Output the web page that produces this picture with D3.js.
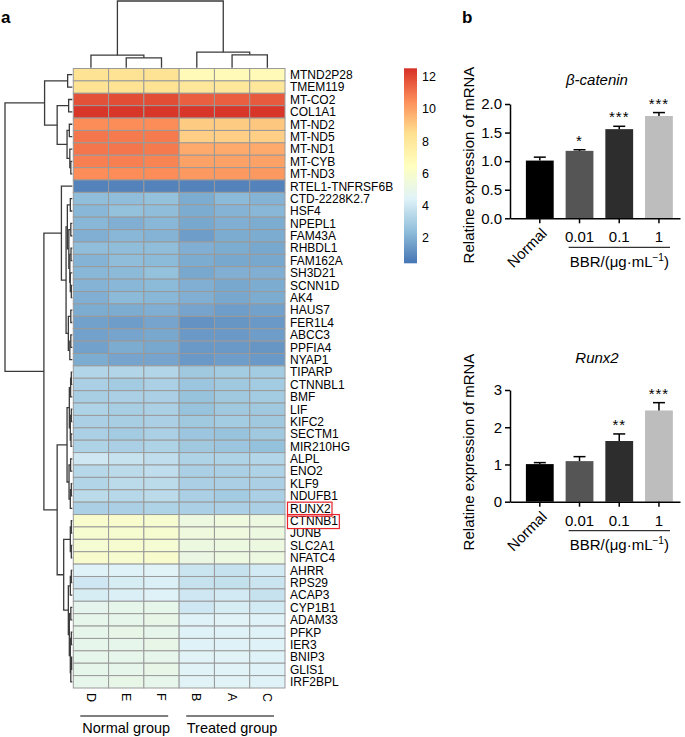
<!DOCTYPE html>
<html><head><meta charset="utf-8">
<script src="https://cdn.jsdelivr.net/npm/d3@7/dist/d3.min.js"></script>
<style>
body{margin:0;background:#fff}
svg{display:block}
text{font-family:"Liberation Sans",Arial,Helvetica,sans-serif;fill:#000}
</style>
</head><body>
<svg id="c" width="685" height="737"></svg>
<script>
// ---------------- DATA ----------------
const genes = ["MTND2P28","TMEM119","MT-CO2","COL1A1","MT-ND2","MT-ND5","MT-ND1","MT-CYB","MT-ND3",
  "RTEL1-TNFRSF6B","CTD-2228K2.7","HSF4","NPEPL1","FAM43A","RHBDL1","FAM162A","SH3D21","SCNN1D","AK4",
  "HAUS7","FER1L4","ABCC3","PPFIA4","NYAP1","TIPARP","CTNNBL1","BMF","LIF","KIFC2","SECTM1","MIR210HG",
  "ALPL","ENO2","KLF9","NDUFB1","RUNX2","CTNNB1","JUNB","SLC2A1","NFATC4","AHRR","RPS29","ACAP3",
  "CYP1B1","ADAM33","PFKP","IER3","BNIP3","GLIS1","IRF2BPL"];
const samples = ["D","E","F","B","A","C"];
const groupNames = ["Normal group","Treated group"];
const groupMembers = [["D","E","F"],["B","A","C"]];
const highlighted = ["RUNX2","CTNNB1"];
// expression per gene, columns D,E,F,B,A,C
const expr = [
  [8.3,8.3,8.3,6.8,6.8,6.8],
  [8.3,8.3,8.3,8.0,8.0,8.0],
  [11.8,11.9,11.9,11.5,11.5,11.6],
  [12.4,12.4,12.4,12.4,12.4,12.4],
  [10.5,10.5,10.5,9.0,9.0,9.1],
  [11.0,10.9,10.9,8.9,8.9,8.9],
  [11.0,11.0,10.9,9.8,9.8,9.8],
  [10.8,10.8,10.7,10.0,10.0,10.0],
  [10.5,10.5,10.5,10.2,10.2,10.2],
  [0.8,0.8,0.8,0.8,0.8,0.8],
  [2.4,2.4,2.5,1.9,2.3,2.1],
  [2.2,2.5,2.4,1.9,2.1,2.2],
  [2.2,2.0,2.2,1.8,2.0,1.9],
  [2.0,2.2,2.1,1.5,1.9,1.9],
  [2.4,2.4,2.4,2.0,1.9,1.8],
  [2.1,2.4,2.3,1.9,1.8,1.8],
  [2.2,2.3,2.5,1.8,2.0,2.0],
  [2.1,2.2,2.3,2.0,1.8,1.9],
  [2.0,2.3,2.2,2.0,1.8,1.9],
  [1.9,1.9,2.0,1.7,1.5,1.6],
  [1.6,1.5,1.7,1.2,1.3,1.4],
  [1.6,1.7,1.8,1.4,1.4,1.5],
  [1.6,1.9,1.8,1.4,1.4,1.3],
  [1.9,1.7,1.7,1.4,1.5,1.4],
  [3.3,3.3,3.3,2.8,2.9,2.9],
  [3.1,2.9,3.1,2.7,2.8,2.9],
  [3.0,3.1,3.1,2.6,2.8,2.9],
  [3.2,3.0,3.1,2.6,2.8,2.8],
  [3.1,3.0,3.1,2.8,2.9,2.8],
  [3.1,2.9,3.1,2.7,2.6,2.8],
  [3.2,3.1,3.2,2.8,2.7,2.5],
  [4.0,3.8,3.6,3.2,3.2,3.3],
  [3.4,3.5,3.6,3.1,3.1,3.2],
  [3.3,3.5,3.5,3.1,3.1,3.1],
  [3.5,3.4,3.5,3.1,2.9,3.1],
  [3.1,3.1,3.2,3.1,3.1,3.1],
  [6.0,6.0,5.9,5.3,5.4,5.3],
  [5.9,5.9,5.9,5.4,5.4,5.3],
  [5.8,5.9,5.8,5.3,5.3,5.3],
  [6.0,5.9,6.0,5.2,5.3,5.3],
  [4.4,4.4,4.5,3.9,3.8,4.1],
  [4.0,4.2,4.3,3.8,3.7,3.9],
  [4.2,4.3,4.4,4.0,4.1,3.8],
  [4.8,4.9,4.9,4.0,4.2,4.1],
  [4.9,4.9,5.0,4.4,4.5,4.4],
  [4.9,5.0,4.9,4.4,4.4,4.4],
  [4.9,4.9,5.0,4.4,4.4,4.4],
  [4.9,4.9,4.9,4.5,4.5,4.4],
  [4.9,4.9,5.0,4.5,4.5,4.4],
  [4.9,5.0,4.9,4.5,4.5,4.4]
];
const colorStops = ["#4575B4","#91BFDB","#E0F3F8","#FFFFBF","#FEE090","#FC8D59","#D73027"];
const legendRange = [0.41, 12.52];
const legendTicks = [2,4,6,8,10,12];
// dendrograms: [mergeHeight, left, right]
const colTree = [67, [12.7,"D",[10,"E","F"]], [15.7,"B",[13,"A","C"]]];
const rowTree = [68,
  [28, [4.7,"MTND2P28","TMEM119"],
       [15.3, [3.7,"MT-CO2","COL1A1"],
              [5.3, [3,"MT-ND2","MT-ND5"], [2.5,"MT-ND1",[1.5,"MT-CYB","MT-ND3"]]]]],
  [28.7,
    [11, "RTEL1-TNFRSF6B",
       [6.3,
         [5, [2,"CTD-2228K2.7","HSF4"],
             [3.5, [1.5,"NPEPL1","FAM43A"],
                   [2.5, [1.3,"RHBDL1","FAM162A"], [2,"SH3D21",[1,"SCNN1D","AK4"]]]]],
         [4, [1.5,"HAUS7","FER1L4"], [2.5,[1.5,"ABCC3","PPFIA4"],"NYAP1"]]]],
    [15.3,
      [5.3,
        [3, [1.7,[1,"TIPARP","CTNNBL1"],"BMF"], [2,[1,"LIF","KIFC2"],[1.3,"SECTM1","MIR210HG"]]],
        [3.3, [1.7,"ALPL","ENO2"], [2,[1,"KLF9","NDUFB1"],"RUNX2"]]],
      [8.7,
        [2, [1,"CTNNB1","JUNB"], [1,"SLC2A1","NFATC4"]],
        [4, [2,[1,"AHRR","RPS29"],"ACAP3"],
            [3, [1.5,"CYP1B1","ADAM33"], [2,[1,"PFKP","IER3"],[1.5,[0.7,"BNIP3","GLIS1"],"IRF2BPL"]]]]]]]];

// bar charts
const barCategories = ["Normal","0.01","0.1","1"];
const barFills = ["#000000","#555555","#2d2d2d","#bdbdbd"];
const cateninMean = [1.01,1.18,1.56,1.79];
const cateninErr  = [0.06,0.02,0.05,0.06];
const cateninSig  = ["","*","***","***"];
const cateninTicks = [0,0.5,1.0,1.5,2.0];
const runxMean = [1.01,1.09,1.63,2.45];
const runxErr  = [0.04,0.12,0.19,0.21];
const runxSig  = ["","","**","***"];
const runxTicks = [0,1,2,3];

// ---------------- DRAW ----------------
const svg = d3.select("#c");
const hmX = d3.scaleBand().domain(samples).range([73.3, 285]);
const hmY = d3.scaleBand().domain(genes).range([68.5, 688]);
const cDom = colorStops.map((c,i)=>legendRange[0]+i*(legendRange[1]-legendRange[0])/(colorStops.length-1));
const color = d3.scaleLinear().domain(cDom).range(colorStops).clamp(true);

// panel labels
svg.append("text").attr("x",1).attr("y",23).attr("font-size",17).attr("font-weight","bold").text("a");
svg.append("text").attr("x",462).attr("y",23).attr("font-size",17).attr("font-weight","bold").text("b");

// cells
const cells = [];
genes.forEach((g,i)=>samples.forEach((s,j)=>cells.push({g,s,v:expr[i][j]})));
svg.append("g").selectAll("rect").data(cells).join("rect")
  .attr("x",d=>hmX(d.s)).attr("y",d=>hmY(d.g))
  .attr("width",hmX.bandwidth()).attr("height",hmY.bandwidth())
  .attr("fill",d=>color(d.v)).attr("stroke","#9a9a9a").attr("stroke-width",1);

// dendrograms
function dendro(tree, leafPos, hPos, horizontal){
  const paths=[];
  function rec(n){
    if(typeof n==="string") return {p:leafPos(n),h:0};
    const a=rec(n[1]), b=rec(n[2]), h=n[0];
    const pt=(pp,hh)=>horizontal?[hPos(hh),pp]:[pp,hPos(hh)];
    const P=[pt(a.p,a.h),pt(a.p,h),pt(b.p,h),pt(b.p,b.h)];
    paths.push("M"+P.map(q=>q.join(",")).join("L"));
    return {p:(a.p+b.p)/2,h};
  }
  rec(tree);
  return paths;
}
const rowH = d3.scaleLinear().domain([0,68]).range([72.3,5]);
const colH = d3.scaleLinear().domain([0,67]).range([67.8,1]);
const rowPaths = dendro(rowTree, g=>hmY(g)+hmY.bandwidth()/2, rowH, true);
const colPaths = dendro(colTree, s=>hmX(s)+hmX.bandwidth()/2, colH, false);
svg.append("g").selectAll("path").data(rowPaths.concat(colPaths)).join("path")
  .attr("d",d=>d).attr("fill","none").attr("stroke","#3a3a3a").attr("stroke-width",1.3);

// row labels
const rl = svg.append("g").selectAll("text").data(genes).join("text")
  .attr("x",290).attr("y",g=>hmY(g)+hmY.bandwidth()/2).attr("dy","0.36em")
  .attr("font-size",12).text(g=>g);
rl.filter(g=>highlighted.includes(g)).each(function(){
  const b=this.getBBox();
  svg.append("rect").attr("x",b.x-2.5).attr("y",b.y+0.5).attr("width",b.width+3.5).attr("height",b.height)
    .attr("fill","none").attr("stroke","#e8232a").attr("stroke-width",1.2);
});

// column labels
svg.append("g").selectAll("text").data(samples).join("text")
  .attr("transform",s=>`translate(${hmX(s)+hmX.bandwidth()/2},693) rotate(90)`)
  .attr("dy","0.35em").attr("font-size",12.5).text(s=>s);

// group lines
groupNames.forEach((name,i)=>{
  const m=groupMembers[i];
  const x0=hmX(m[0])+7, x1=hmX(m[m.length-1])+hmX.bandwidth()-11;
  svg.append("line").attr("x1",x0).attr("x2",x1).attr("y1",716).attr("y2",716).attr("stroke","#000").attr("stroke-width",1.2);
  svg.append("text").attr("x",(x0+x1)/2+2).attr("y",733).attr("text-anchor","middle").attr("font-size",14.5).text(name);
});

// legend
const lg = svg.append("defs").append("linearGradient").attr("id","lg").attr("x1",0).attr("x2",0).attr("y1",1).attr("y2",0);
cDom.forEach((v,i)=>lg.append("stop").attr("offset",(v-legendRange[0])/(legendRange[1]-legendRange[0])).attr("stop-color",colorStops[i]));
const lY = d3.scaleLinear().domain(legendRange).range([263.3,68.3]);
svg.append("rect").attr("x",404).attr("y",lY(legendRange[1])).attr("width",13)
  .attr("height",lY(legendRange[0])-lY(legendRange[1])).attr("fill","url(#lg)");
svg.append("g").selectAll("text").data(legendTicks).join("text")
  .attr("x",422).attr("y",d=>lY(d)).attr("dy","0.36em").attr("font-size",12.5).text(d=>d);

// bar charts
function barChart(o){
  const x = d3.scaleBand().domain(barCategories).range([510,680]).paddingInner(0.3).paddingOuter(0.29).align(0.69);
  const y = d3.scaleLinear().domain([0,o.ticks[o.ticks.length-1]]).range([o.y0,o.y1]);
  const g = svg.append("g");
  g.selectAll("rect").data(barCategories).join("rect")
    .attr("x",c=>x(c)).attr("width",x.bandwidth())
    .attr("y",(c,i)=>y(o.mean[i])).attr("height",(c,i)=>y(0)-y(o.mean[i]))
    .attr("fill",(c,i)=>barFills[i]);
  // error bars
  barCategories.forEach((c,i)=>{
    const cx=x(c)+x.bandwidth()/2, yt=y(o.mean[i]+o.err[i]);
    g.append("line").attr("x1",cx).attr("x2",cx).attr("y1",y(o.mean[i])).attr("y2",yt).attr("stroke","#000").attr("stroke-width",1.5);
    g.append("line").attr("x1",cx-6).attr("x2",cx+6).attr("y1",yt).attr("y2",yt).attr("stroke","#000").attr("stroke-width",1.5);
    if(o.sig[i]) g.append("text").attr("x",cx).attr("y",yt-4).attr("text-anchor","middle")
      .attr("font-size",15).attr("letter-spacing",1).text(o.sig[i]);
  });
  const ya = g.append("g").attr("transform","translate(510,0)")
    .call(d3.axisLeft(y).tickValues(o.ticks).tickFormat(o.fmt).tickSize(5).tickSizeOuter(0).tickPadding(3));
  const xa = g.append("g").attr("transform",`translate(0,${o.y0})`)
    .call(d3.axisBottom(x).tickSize(5).tickSizeOuter(0).tickFormat(""));
  [ya,xa].forEach(a=>{a.select(".domain").attr("stroke-width",1.5);a.selectAll(".tick line").attr("stroke-width",1.5);
    a.selectAll("text").attr("font-size",15).attr("font-family","'Liberation Sans',Arial,sans-serif");});
  // x labels
  barCategories.forEach((c,i)=>{
    const cx=x(c)+x.bandwidth()/2;
    if(i===0) g.append("text").attr("transform",`translate(${cx+8},${o.y0+16}) rotate(-45)`)
      .attr("text-anchor","end").attr("font-size",15).text(c);
    else g.append("text").attr("x",cx).attr("y",o.y0+24).attr("text-anchor","middle").attr("font-size",15).text(c);
  });
  const lx0=x(barCategories[1])+3, lx1=680-10;
  g.append("line").attr("x1",lx0).attr("x2",lx1).attr("y1",o.y0+29).attr("y2",o.y0+29).attr("stroke","#000").attr("stroke-width",1);
  const bt=g.append("text").attr("x",(lx0+lx1)/2).attr("y",o.y0+48.5).attr("text-anchor","middle").attr("font-size",15);
  bt.append("tspan").text("BBR/(μg·mL");
  bt.append("tspan").attr("dy",-6).attr("font-size",10).text("−1");
  bt.append("tspan").attr("dy",6).text(")");
  // title
  g.append("text").attr("x",597).attr("y",o.titleY).attr("text-anchor","middle").attr("font-size",15)
    .attr("font-style","italic").text(o.title);
  // y label
  g.append("text").attr("transform",`translate(468,${o.labelY}) rotate(-90)`).attr("text-anchor","middle")
    .attr("dominant-baseline","central").attr("font-size",15).text("Relatine expression of mRNA");
}
barChart({title:"β-catenin",mean:cateninMean,err:cateninErr,sig:cateninSig,ticks:cateninTicks,
  fmt:d3.format(".1f"),y0:218.3,y1:104,titleY:85,labelY:165});
barChart({title:"Runx2",mean:runxMean,err:runxErr,sig:runxSig,ticks:runxTicks,
  fmt:d3.format("d"),y0:501.7,y1:390,titleY:363,labelY:452});
</script>
</body></html>
